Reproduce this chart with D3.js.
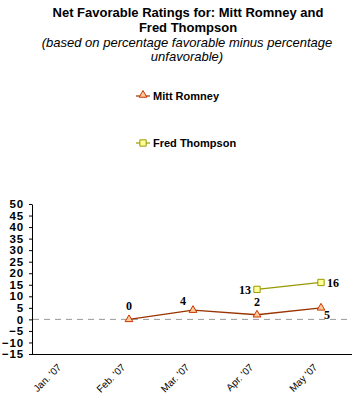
<!DOCTYPE html>
<html><head><meta charset="utf-8">
<script src="https://cdn.jsdelivr.net/npm/d3@7"></script>
<style>body{margin:0;background:#fff}svg{display:block}</style>
</head><body>
<svg id="c" width="360" height="416"></svg>
<script>
const months = ["Jan. '07","Feb. '07","Mar. '07","Apr. '07","May '07"];
const romneyMonths = ["Feb. '07","Mar. '07","Apr. '07","May '07"];
const romneyValues = [0,4,2,5];
const thompsonMonths = ["Apr. '07","May '07"];
const thompsonValues = [13,16];
const yTicks = [50,45,40,35,30,25,20,15,10,5,0,-5,-10,-15];

const svg = d3.select("#c");
const x = d3.scalePoint().domain(months).range([65,321]);
const y = d3.scaleLinear().domain([-15,50]).range([354,204]);

// titles
const t = svg.append("g").attr("text-anchor","middle").attr("font-family","Liberation Sans, Arial, sans-serif").attr("font-size",13);
t.append("text").attr("x",188).attr("y",17).attr("font-weight","bold").text("Net Favorable Ratings for: Mitt Romney and");
t.append("text").attr("x",188).attr("y",32).attr("font-weight","bold").text("Fred Thompson");
t.append("text").attr("x",187).attr("y",47).attr("font-style","italic").text("(based on percentage favorable minus percentage");
t.append("text").attr("x",187).attr("y",61).attr("font-style","italic").text("unfavorable)");

// legend
const tri = d3.symbol().type(d3.symbolTriangle).size(26);
const sq = d3.symbol().type(d3.symbolSquare).size(40);
const lg = svg.append("g").attr("font-family","Liberation Sans, Arial, sans-serif").attr("font-size",11).attr("font-weight","bold");
lg.append("line").attr("x1",136).attr("x2",150).attr("y1",96).attr("y2",96).attr("stroke","#993300").attr("stroke-width",1.2);
lg.append("path").attr("d",tri).attr("transform","translate(143,95)").attr("fill","#FFCC99").attr("stroke","#CC3300");
lg.append("text").attr("x",153).attr("y",100).text("Mitt Romney");
lg.append("line").attr("x1",136).attr("x2",150).attr("y1",143).attr("y2",143).attr("stroke","#999900").attr("stroke-width",1.2);
lg.append("path").attr("d",sq).attr("transform","translate(143,143)").attr("fill","#FFFF99").attr("stroke","#999900");
lg.append("text").attr("x",153).attr("y",147).text("Fred Thompson");

// y axis
const ya = svg.append("g").attr("transform","translate(32,0)")
  .call(d3.axisLeft(y).tickValues(yTicks).tickSize(3).tickSizeOuter(0));
ya.select(".domain").attr("stroke","#000");
ya.selectAll("text").attr("font-family","Liberation Sans, Arial, sans-serif").attr("font-size",11.5).attr("font-weight","bold").attr("fill","#000").attr("x",-8).attr("letter-spacing","0.8px");

// x axis line
svg.append("line").attr("x1",32).attr("x2",352).attr("y1",354.5).attr("y2",354.5).attr("stroke","#000").attr("stroke-width",1.2);
// zero dashed line
svg.append("line").attr("x1",33).attr("x2",352).attr("y1",y(0)).attr("y2",y(0)).attr("stroke","#999").attr("stroke-dasharray","6,5");

// x labels
svg.append("g").selectAll("text").data(months).join("text")
  .attr("transform",d=>`translate(${x(d)-3},368) rotate(-45)`)
  .attr("text-anchor","end").attr("font-family","Liberation Sans, Arial, sans-serif").attr("font-size",10).attr("fill","#000").text(d=>d);

// series
const line = d3.line().x(d=>x(d[0])).y(d=>y(d[1]));
const rData = romneyMonths.map((m,i)=>[m,romneyValues[i]]);
const tData = thompsonMonths.map((m,i)=>[m,thompsonValues[i]]);
svg.append("path").attr("d",line(rData)).attr("fill","none").attr("stroke","#993300").attr("stroke-width",1.3);
svg.append("path").attr("d",line(tData)).attr("fill","none").attr("stroke","#999900").attr("stroke-width",1.3);
svg.append("g").selectAll("path").data(rData).join("path").attr("d",tri)
  .attr("transform",d=>`translate(${x(d[0])},${y(d[1])})`).attr("fill","#FFCC99").attr("stroke","#CC3300");
svg.append("g").selectAll("path").data(tData).join("path").attr("d",sq)
  .attr("transform",d=>`translate(${x(d[0])},${y(d[1])})`).attr("fill","#FFFF99").attr("stroke","#999900");

// data labels
const rOff = [[0,-9,"middle"],[-10,-5,"middle"],[0,-9,"middle"],[6,11,"middle"]];
const tOff = [[-6,5,"end"],[6,5,"start"]];
const lab = svg.append("g").attr("font-family","Liberation Serif, Times New Roman, serif").attr("font-size",12).attr("font-weight","bold");
lab.selectAll(".r").data(rData).join("text").attr("class","r")
  .attr("x",(d,i)=>x(d[0])+rOff[i][0]).attr("y",(d,i)=>y(d[1])+rOff[i][1]).attr("text-anchor",(d,i)=>rOff[i][2]).text(d=>d[1]);
lab.selectAll(".t").data(tData).join("text").attr("class","t")
  .attr("x",(d,i)=>x(d[0])+tOff[i][0]).attr("y",(d,i)=>y(d[1])+tOff[i][1]).attr("text-anchor",(d,i)=>tOff[i][2]).text(d=>d[1]);
</script>
</body></html>
